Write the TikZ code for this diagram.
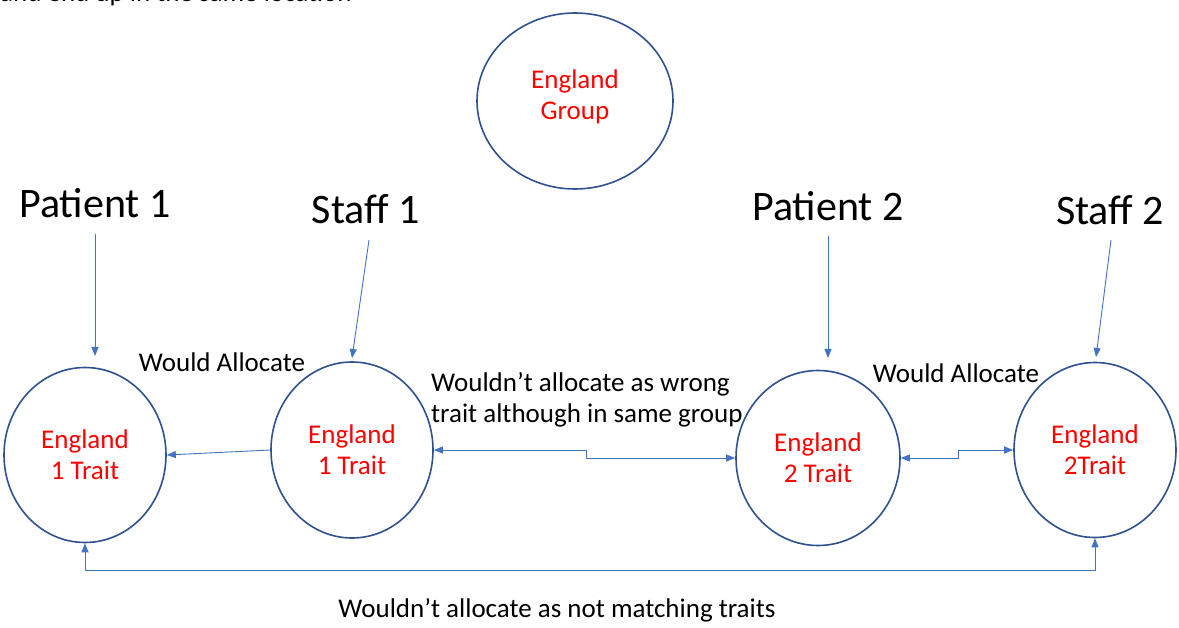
\documentclass[tikz,border=0pt]{standalone}
\usepackage{fontspec}
\setmainfont{Carlito}
\usetikzlibrary{shapes.geometric,arrows.meta}
\definecolor{ringblue}{HTML}{2F528F}
\definecolor{arrowblue}{HTML}{4472C4}
\definecolor{txtred}{HTML}{FF0000}
\tikzset{
  ring/.style={draw=ringblue, line width=1.6pt, ellipse, inner sep=0pt,
    minimum width=162pt, minimum height=175pt, text=txtred, align=center,
    font=\fontsize{27}{31}\selectfont},
  head/.style={font=\fontsize{42}{48}\selectfont, inner sep=0pt},
  lbl/.style={font=\fontsize{27}{31}\selectfont, inner sep=0pt},
  arr/.style={draw=arrowblue, line width=0.9pt, -{Triangle[length=9pt,width=7pt]}},
  dbl/.style={draw=arrowblue, line width=0.9pt, {Triangle[length=9pt,width=7pt]}-{Triangle[length=9pt,width=7pt]}}
}
\begin{document}
\begin{tikzpicture}[x=1pt,y=-1pt]
\useasboundingbox (0,0) rectangle (1179,628);
\fill[white] (0,0) rectangle (1179,628);
% cut-off text at the top
\node[lbl, anchor=base west] (topcut) at (0,2) {and end up in the same location};
% group ellipse
\node[draw=ringblue, line width=1.6pt, ellipse, inner sep=0pt, minimum width=196pt, minimum height=176pt] (grp) at (575,101) {};
\node[text=txtred, align=center, font=\fontsize{27}{31}\selectfont, inner sep=0pt] (grpt) at (575,97) {England\\Group};
% trait ellipses
\node[ring] (c1) at (85,455) {England\\1 Trait};
\node[ring, minimum height=176pt] (c2) at (352,450) {England\\1 Trait};
\node[ring, minimum width=164pt] (c3) at (818,458) {England\\2 Trait};
\node[ring] (c4) at (1095,450) {England\\2Trait};
% headings
\node[head] (p1) at (95,203) {Patient 1};
\node[head] (s1) at (366,209) {Staff 1};
\node[head] (p2) at (828,206) {Patient 2};
\node[head] (s2) at (1110,210) {Staff 2};
% arrow ends
\coordinate (p1a) at (95,234); \coordinate (p1b) at (95,356);
\coordinate (s1a) at (369,240); \coordinate (s1b) at (352,358);
\coordinate (p2a) at (828,236); \coordinate (p2b) at (828,358);
\coordinate (s2a) at (1111,240); \coordinate (s2b) at (1096,357);
\draw[arr] (p1a) -- (p1b);
\draw[arr] (s1a) -- (s1b);
\draw[arr] (p2a) -- (p2b);
\draw[arr] (s2a) -- (s2b);
% connectors between ellipses
\draw[arr] (c2.west) -- (c1.east);
\draw[dbl] (c2.east) -- ++(153,0) |- (c3.west);
\draw[dbl] (c3.east) -- (958,458) |- (c4.west);
\draw[dbl] (c1.south) -- (85,570) -| (c4.south);
% labels
\node[lbl] (wa1) at (222,362) {Would Allocate};
\node[lbl, align=left, anchor=north west] (wr) at (431,372) {Wouldn’t allocate as wrong\\trait although in same group};
\node[lbl] (wa2) at (956,373) {Would Allocate};
\node[lbl] (nm) at (557,610) {Wouldn’t allocate as not matching traits};
\end{tikzpicture}
\end{document}
